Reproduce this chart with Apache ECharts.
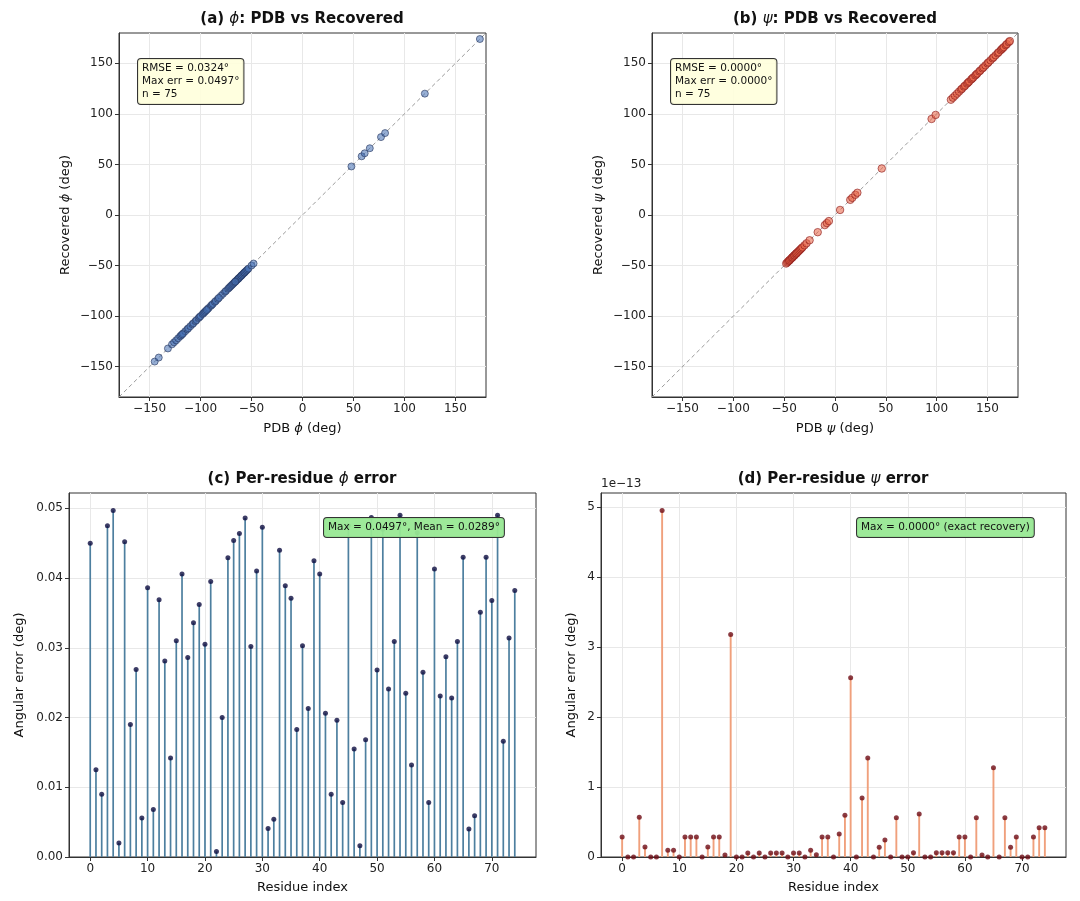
<!DOCTYPE html>
<html><head><meta charset="utf-8">
<script src="https://cdn.jsdelivr.net/npm/echarts@6.0.0/dist/echarts.min.js"></script>
<style>html,body{margin:0;padding:0;background:#fff}#c{width:1080px;height:901px}</style>
</head><body><div id="c"></div>
<script>
// ---- data ----
const phiPDB = [-145,-141,-132,-128,-126,-124,-122,-120,-119,-117,-115,-113,-112,-110,-108,-107,-105,-104,-102,-101,-100,-98,-97,-96,-95,-93,-92,-90,-89,-88,-86,-85,-83,-80,-78,-76,-75,-73,-72,-71,-70,-69,-68,-67,-66,-65,-64,-63,-63,-62,-61,-60,-60,-59,-58,-57,-57,-56,-55,-54,-53,-50,-48,-118,-94,-82,-66,48,58,61,66,77,81,120,174];
const psiPDB = [-48,-47,-46,-45,-45,-44,-43,-42,-42,-41,-40,-40,-39,-38,-38,-37,-36,-35,-34,-33,-32,-30,-28,-25,-17,-10,-8,-6,5,15,17,20,22,46,95,99,114,116,118,120,122,124,125,127,128,130,131,132,134,135,136,138,139,140,142,143,145,146,148,150,151,153,155,156,158,160,161,163,164,165,166,168,169,171,172];
const phiErr = [0.0450,0.0125,0.0090,0.0475,0.0497,0.0020,0.0452,0.0190,0.0269,0.0056,
  0.0386,0.0068,0.0369,0.0281,0.0142,0.0310,0.0406,0.0286,0.0336,0.0362,
  0.0305,0.0395,0.0008,0.0200,0.0429,0.0454,0.0464,0.0486,0.0302,0.0410,
  0.0473,0.0041,0.0054,0.0440,0.0389,0.0371,0.0183,0.0303,0.0213,0.0425,
  0.0406,0.0206,0.0090,0.0196,0.0078,0.0475,0.0155,0.0016,0.0168,0.0487,
  0.0268,0.0470,0.0241,0.0309,0.0490,0.0235,0.0132,0.0465,0.0265,0.0078,
  0.0413,0.0231,0.0287,0.0228,0.0309,0.0430,0.0040,0.0059,0.0351,0.0430,
  0.0368,0.0490,0.0166,0.0314,0.0382];
// psi error in units of 1e-13 deg
const psiErr13 = [0.284,0,0,0.568,0.142,0,0,4.95,0.095,0.095,
  0,0.284,0.284,0.284,0,0.142,0.284,0.284,0.03,3.18,
  0,0,0.057,0,0.057,0,0.057,0.057,0.057,0,
  0.057,0.057,0,0.095,0.033,0.284,0.284,0,0.33,0.595,
  2.56,0,0.843,1.414,0,0.138,0.243,0,0.562,0,
  0,0.062,0.614,0,0,0.062,0.062,0.062,0.062,0.284,
  0.284,0,0.562,0.03,0,1.276,0,0.562,0.138,0.284,
  0,0,0.284,0.419,0.419];
const angleTicks = [-150,-100,-50,0,50,100,150];
const residueTicks = [0,10,20,30,40,50,60,70];
const phiErrTicks = [0,0.01,0.02,0.03,0.04,0.05];
const psiErrTicks = [0,1,2,3,4,5];
const diagLine = [[-180,-180],[180,180]];
const statsA = ['RMSE = 0.0324°','Max err = 0.0497°','n = 75'];
const statsB = ['RMSE = 0.0000°','Max err = 0.0000°','n = 75'];
const noteC = 'Max = 0.0497°, Mean = 0.0289°';
const noteD = 'Max = 0.0000° (exact recovery)';

const FF = '"DejaVu Sans", sans-serif';
const residues = phiErr.map((_, i) => i);
const minus = s => String(s).replace('-', '\u2212');

function axis(gi, min, max, ticks, fmt, name, gap) {
  return {
    type: 'value', gridIndex: gi, min: min, max: max,
    axisLine: { show: true, onZero: false, lineStyle: { color: '#333', width: 1 } },
    axisTick: { show: true, inside: false, length: 4, customValues: ticks, lineStyle: { color: '#333' } },
    axisLabel: { customValues: ticks, formatter: fmt, color: '#222', fontSize: 12, fontFamily: FF, margin: 6 },
    splitLine: { show: true, lineStyle: { color: '#e8e8e8', width: 1 } },
    name: name, nameLocation: 'middle', nameGap: gap,
    nameTextStyle: { color: '#111', fontSize: 13, fontFamily: FF,
      rich: { n: { fontSize: 13, fontFamily: FF, color: '#111' }, i: { fontSize: 13, fontFamily: FF, fontStyle: 'italic', fontWeight: 'normal', color: '#111' } } }
  };
}
const intFmt = v => minus(Math.round(v));
const richT = { b: { fontSize: 15, fontWeight: 'bold', fontFamily: FF, color: '#111' }, i: { fontSize: 15, fontStyle: 'italic', fontWeight: 'normal', fontFamily: FF, color: '#111' } };
function title(text, x, y) {
  return { text: text, left: x, top: y, textAlign: 'center', padding: 0,
    textStyle: { fontSize: 15, fontWeight: 'bold', fontFamily: FF, color: '#111', rich: richT } };
}
function box(lines, x, y, bg) {
  return { type: 'text', left: x, top: y, z: 100,
    style: { text: lines.join('\n'), font: '10.5px ' + FF, fill: '#111', lineHeight: 13,
      backgroundColor: bg, borderColor: '#333', borderWidth: 1, borderRadius: 3, padding: [3, 4, 3, 4] } };
}

const option = {
  backgroundColor: '#fff',
  animation: false,
  title: [
    title('{b|(a) }{i|ϕ}{b|: PDB vs Recovered}', 302, 12),
    title('{b|(b) }{i|ψ}{b|: PDB vs Recovered}', 835, 12),
    title('{b|(c) Per-residue }{i|ϕ}{b| error}', 302, 472),
    title('{b|(d) Per-residue }{i|ψ}{b| error}', 833, 472)
  ],
  grid: [
    { left: 119, top: 33, width: 367, height: 364, show: true, borderColor: '#333', borderWidth: 1 },
    { left: 652, top: 33, width: 366, height: 364, show: true, borderColor: '#333', borderWidth: 1 },
    { left: 69, top: 493, width: 467, height: 364, show: true, borderColor: '#333', borderWidth: 1 },
    { left: 601, top: 493, width: 465, height: 364, show: true, borderColor: '#333', borderWidth: 1 }
  ],
  xAxis: [
    axis(0, -180, 180, angleTicks, intFmt, '{n|PDB }{i|ϕ}{n| (deg)}', 25),
    axis(1, -180, 180, angleTicks, intFmt, '{n|PDB }{i|ψ}{n| (deg)}', 25),
    axis(2, -3.7, 77.7, residueTicks, intFmt, 'Residue index', 24),
    axis(3, -3.7, 77.7, residueTicks, intFmt, 'Residue index', 24)
  ],
  yAxis: [
    axis(0, -180, 180, angleTicks, intFmt, '{n|Recovered }{i|ϕ}{n| (deg)}', 47),
    axis(1, -180, 180, angleTicks, intFmt, '{n|Recovered }{i|ψ}{n| (deg)}', 47),
    axis(2, 0, 0.0522, phiErrTicks, v => v.toFixed(2), 'Angular error (deg)', 43),
    axis(3, 0, 5.2, psiErrTicks, v => String(Math.round(v)), 'Angular error (deg)', 23)
  ],
  series: [
    { type: 'line', xAxisIndex: 0, yAxisIndex: 0, data: diagLine, symbol: 'none', silent: true,
      lineStyle: { color: '#9a9a9a', width: 1, type: [4, 3] }, z: 1 },
    { type: 'scatter', xAxisIndex: 0, yAxisIndex: 0, symbolSize: 7, z: 2,
      data: phiPDB.map((v, i) => [v, v + phiErr[i]]),
      itemStyle: { color: 'rgba(70,112,180,0.7)', borderColor: '#27375f', borderWidth: 0.8 } },
    { type: 'line', xAxisIndex: 1, yAxisIndex: 1, data: diagLine, symbol: 'none', silent: true,
      lineStyle: { color: '#9a9a9a', width: 1, type: [4, 3] }, z: 1 },
    { type: 'scatter', xAxisIndex: 1, yAxisIndex: 1, symbolSize: 7.5, z: 2,
      data: psiPDB.map((v, i) => [v, v + psiErr13[i] * 1e-13]),
      itemStyle: { color: 'rgba(232,100,70,0.7)', borderColor: '#8b1a1a', borderWidth: 0.8 } },
    { type: 'bar', xAxisIndex: 2, yAxisIndex: 2, barWidth: 1.7, z: 2,
      data: residues.map(i => [i, phiErr[i]]),
      itemStyle: { color: '#4d7f9f' } },
    { type: 'scatter', xAxisIndex: 2, yAxisIndex: 2, symbolSize: 5, z: 3,
      data: residues.map(i => [i, phiErr[i]]),
      itemStyle: { color: '#0c0c40' } },
    { type: 'bar', xAxisIndex: 3, yAxisIndex: 3, barWidth: 1.9, z: 2,
      data: residues.map(i => [i, psiErr13[i]]),
      itemStyle: { color: '#f0a07c' } },
    { type: 'scatter', xAxisIndex: 3, yAxisIndex: 3, symbolSize: 5, z: 3,
      data: residues.map(i => [i, psiErr13[i]]),
      itemStyle: { color: '#6e0b14' } }
  ],
  graphic: [
    box(statsA, 137, 58, 'rgba(255,255,220,0.9)'),
    box(statsB, 670, 58, 'rgba(255,255,220,0.9)'),
    box([noteC], 323, 517, 'rgba(152,232,148,0.95)'),
    box([noteD], 856, 517, 'rgba(152,232,148,0.95)'),
    { type: 'text', left: 601, top: 478, style: { text: '1e\u221213', font: '12px ' + FF, fill: '#222' } }
  ]
};
const chart = echarts.init(document.getElementById('c'), null, { renderer: 'canvas' });
chart.setOption(option);
</script></body></html>
